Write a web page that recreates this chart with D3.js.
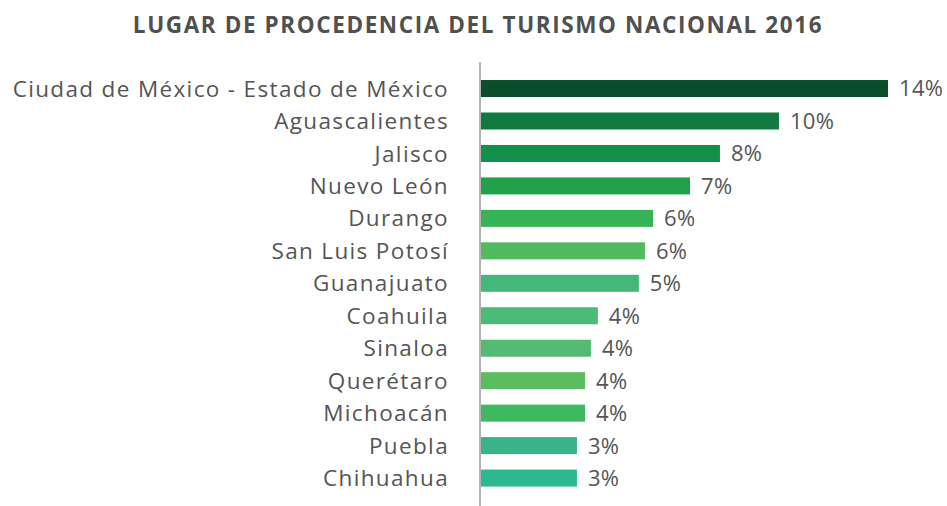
<!DOCTYPE html>
<html>
<head>
<meta charset="utf-8">
<script src="https://cdn.jsdelivr.net/npm/d3@7"></script>
<style>
  html, body { margin: 0; padding: 0; background: #ffffff; }
  svg { display: block; }
</style>
</head>
<body>
<svg id="chart" width="947" height="506"></svg>
<script>
// Lugar de procedencia del turismo nacional, 2016 (porcentaje)
const states = [
  "Ciudad de México - Estado de México",
  "Aguascalientes",
  "Jalisco",
  "Nuevo León",
  "Durango",
  "San Luis Potosí",
  "Guanajuato",
  "Coahuila",
  "Sinaloa",
  "Querétaro",
  "Michoacán",
  "Puebla",
  "Chihuahua"
];
const shares = [14.0, 10.25, 8.22, 7.19, 5.92, 5.64, 5.43, 4.02, 3.78, 3.58, 3.58, 3.3, 3.3];
const barColors = [
  "#0a4d2a", "#107a40", "#138e4b", "#22a04a", "#36b455", "#52bb5f", "#45b77a",
  "#4cbb78", "#52ba73", "#5bbd60", "#3fb862", "#3bb38a", "#2bb98f"
];
const title = "LUGAR DE PROCEDENCIA DEL TURISMO NACIONAL 2016";

const rows = states.map((s, i) => ({ state: s, share: shares[i], color: barColors[i] }));

const svg = d3.select("#chart");
const textColor = "#555555";
const fontFamily = "'Open Sans', 'Noto Sans', sans-serif";

const x = d3.scaleLinear().domain([0, 14]).range([481, 888]);
const y = d3.scaleBand()
  .domain(states)
  .range([72.3, 494.3])
  .paddingInner(0.476)
  .paddingOuter(0.238);

svg.append("text")
  .attr("x", 478)
  .attr("y", 33)
  .attr("text-anchor", "middle")
  .attr("fill", "#505050")
  .attr("font-family", fontFamily)
  .attr("font-weight", 700)
  .attr("font-size", 22.5)
  .attr("letter-spacing", 1.6)
  .text(title);

svg.append("g")
  .selectAll("rect")
  .data(rows)
  .join("rect")
  .attr("x", x(0))
  .attr("y", d => y(d.state))
  .attr("width", d => x(d.share) - x(0))
  .attr("height", y.bandwidth())
  .attr("fill", d => d.color);

// category axis on the left, drawn as a plain vertical rule with labels
const axis = d3.axisLeft(y).tickSize(0).tickPadding(32);
const axisG = svg.append("g")
  .attr("transform", `translate(${x(0)},0)`)
  .call(axis);
axisG.select(".domain").remove();
axisG.selectAll("text")
  .attr("fill", textColor)
  .attr("font-family", fontFamily)
  .attr("font-weight", 400)
  .attr("font-size", 22.5)
  .attr("letter-spacing", 1.35)
  .attr("dy", "0.36em");

svg.append("line")
  .attr("x1", 480).attr("x2", 480)
  .attr("y1", 62).attr("y2", 506)
  .attr("stroke", "#b3b3b3")
  .attr("stroke-width", 2);

const fmt = d => d3.format(".0f")(d) + "%";
svg.append("g")
  .selectAll("text")
  .data(rows)
  .join("text")
  .attr("x", d => x(d.share) + 11)
  .attr("y", d => y(d.state) + y.bandwidth() / 2)
  .attr("dy", "0.36em")
  .attr("fill", textColor)
  .attr("font-family", fontFamily)
  .attr("font-weight", 400)
  .attr("font-size", 22)
  .attr("letter-spacing", 0.3)
  .text(d => fmt(d.share));
</script>
</body>
</html>
